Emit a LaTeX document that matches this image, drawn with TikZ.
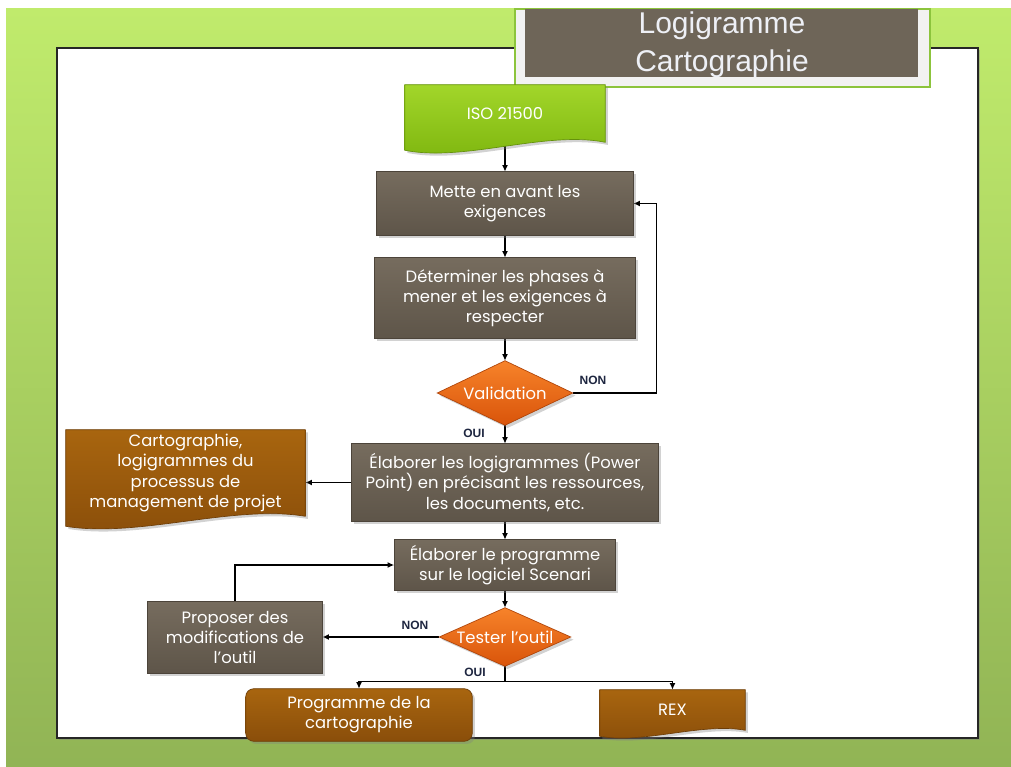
\documentclass[tikz,border=0pt]{standalone}
\usepackage{fontspec}
\setmainfont{Poppins}
\newfontfamily\arialf{Liberation Sans}
\usetikzlibrary{arrows.meta,calc,shadows}
\pgfdeclarelayer{back}
\pgfdeclarelayer{edges}
\pgfdeclarelayer{shapes}
\pgfsetlayers{back,edges,shapes,main}
\definecolor{brownA}{HTML}{766C5E}
\definecolor{brownB}{HTML}{5E5549}
\definecolor{brownD}{HTML}{4C443A}
\definecolor{orA}{HTML}{F7832A}
\definecolor{orB}{HTML}{D9540A}
\definecolor{ochA}{HTML}{A8650F}
\definecolor{ochB}{HTML}{8A4E0A}
\definecolor{isoA}{HTML}{A2D62A}
\definecolor{isoB}{HTML}{7DB50E}
\definecolor{bgA}{HTML}{C0EB6C}
\definecolor{bgB}{HTML}{91B455}
\definecolor{lblc}{HTML}{1E2640}
\definecolor{titlebg}{HTML}{6E6558}
\definecolor{titlefg}{HTML}{EEF0F6}
\definecolor{frameg}{HTML}{8CC43C}
\tikzset{
  txt/.style={text=white, align=center, font=\fontsize{12.3}{15.2}\selectfont, inner sep=0pt},
  sz/.style 2 args={minimum width=#1*0.75pt, minimum height=#2*0.75pt},
  shad/.style={drop shadow={shadow xshift=2pt, shadow yshift=-2pt, opacity=0.35}},
  brownbox/.style={top color=brownA, bottom color=brownB, draw=brownD, line width=0.6pt, shad},
  orangebox/.style={top color=orA, bottom color=orB, draw=orB!80!black, line width=0.5pt, shad},
  ochrebox/.style={top color=ochA, bottom color=ochB, draw=ochB!80!black, line width=0.5pt, shad},
  greenbox/.style={top color=isoA, bottom color=isoB, draw=isoB!80!black, line width=0.5pt, shad},
  edge/.style={draw=black, line width=1pt, -{Latex[length=5pt,width=4.5pt]}},
  lbl/.style={text=lblc, font=\arialf\bfseries\fontsize{9}{10}\selectfont, inner sep=0pt}
}
\begin{document}
\begin{tikzpicture}[x=0.75pt,y=-0.75pt]
\useasboundingbox (0,0) rectangle (1011,767);
\begin{pgfonlayer}{back}
  \fill[white] (0,0) rectangle (1011,767);
  \shade[top color=bgA, bottom color=bgB] (6,9) rectangle (1011,766);
  \fill[white, draw=black!85, line width=1.2pt, drop shadow={shadow xshift=1.5pt, shadow yshift=-1.5pt, opacity=0.4}] (57,48) rectangle (978,738);
  \fill[black!5, draw=frameg, line width=1pt] (515,9) rectangle (930,87);
  \fill[titlebg] (525,9) rectangle (918,77);
\end{pgfonlayer}

% title
\node[text=titlefg, align=center, font=\arialf\fontsize{22.5}{28.5}\selectfont, inner sep=0pt] (title) at (722,45) {Logigramme\\Cartographie};

% nodes
\node[txt, sz={200}{57}] (iso) at (505,113.5) {ISO 21500};
\node[txt, sz={256}{63}] (mettre) at (505,203.5) {Mette en avant les\\exigences};
\node[txt, sz={261}{80}] (determ) at (505,298) {Déterminer les phases à\\mener et les exigences à\\respecter};
\node[txt, sz={135}{64}] (valid) at (505,393) {Validation};
\node[txt, sz={307}{77}] (elab) at (505,482.5) {Élaborer les logigrammes (Power\\Point) en précisant les ressources,\\les documents, etc.};
\node[txt, sz={239}{86}] (carto) at (185.5,473) {Cartographie,\\logigrammes du\\processus de\\management de projet};
\node[txt, sz={221}{50}] (prog) at (505,565) {Élaborer le programme\\sur le logiciel Scenari};
\node[txt, sz={131}{58}] (test) at (505,637) {Tester l'outil};
\node[txt, sz={174}{71}] (prop) at (235,637.5) {Proposer des\\modifications de\\l'outil};
\node[txt, sz={226}{52}] (pc) at (359,715) {Programme de la\\cartographie};
\node[txt, sz={145}{40}] (rex) at (672.5,710) {REX};

% labels
\node[lbl] (non1) at (593,380) {NON};
\node[lbl] (oui1) at (474,433) {OUI};
\node[lbl] (non2) at (415,625) {NON};
\node[lbl] (oui2) at (475,672) {OUI};

% shapes
\begin{pgfonlayer}{shapes}
  \path[greenbox] (iso.north west) -- (iso.north east) -- (iso.south east)
     .. controls ($(iso.south east)!0.3!(iso.south west)+(0,-12)$) and ($(iso.south east)!0.7!(iso.south west)+(0,20)$) .. ($(iso.south west)+(0,8)$) -- cycle;
  \path[brownbox] (mettre.north west) rectangle (mettre.south east);
  \path[brownbox] (determ.north west) rectangle (determ.south east);
  \path[orangebox] (valid.north) -- (valid.east) -- (valid.south) -- (valid.west) -- cycle;
  \path[brownbox] (elab.north west) rectangle (elab.south east);
  \path[ochrebox] (carto.north west) -- (carto.north east) -- (carto.south east)
     .. controls ($(carto.south east)!0.3!(carto.south west)+(0,-12)$) and ($(carto.south east)!0.7!(carto.south west)+(0,22)$) .. ($(carto.south west)+(0,10)$) -- cycle;
  \path[brownbox] (prog.north west) rectangle (prog.south east);
  \path[orangebox] (test.north) -- (test.east) -- (test.south) -- (test.west) -- cycle;
  \path[brownbox] (prop.north west) rectangle (prop.south east);
  \path[ochrebox, rounded corners=6pt] (pc.north west) rectangle (pc.south east);
  \path[ochrebox] (rex.north west) -- (rex.north east) -- (rex.south east)
     .. controls ($(rex.south east)!0.3!(rex.south west)+(0,-8)$) and ($(rex.south east)!0.7!(rex.south west)+(0,14)$) .. ($(rex.south west)+(0,6)$) -- cycle;
\end{pgfonlayer}

% connectors
\begin{pgfonlayer}{edges}
  \draw[edge] (iso.south) -- (mettre.north);
  \draw[edge] (mettre.south) -- (determ.north);
  \draw[edge] (determ.south) -- (valid.north);
  \draw[edge] (valid.east) -- ++(84,0) |- (mettre.east);
  \draw[edge] (valid.south) -- (elab.north);
  \draw[edge] (elab.west) -- (elab.west -| carto.east);
  \draw[edge] (elab.south) -- (prog.north);
  \draw[edge] (prog.south) -- (test.north);
  \draw[edge] (test.west) -- (test.west -| prop.east);
  \draw[edge] (prop.north) |- (prog.west);
  \draw[edge] (test.south) -- ++(0,15) -| (pc.north);
  \draw[edge] (test.south) -- ++(0,15) -| (rex.north);
\end{pgfonlayer}
\end{tikzpicture}
\end{document}
